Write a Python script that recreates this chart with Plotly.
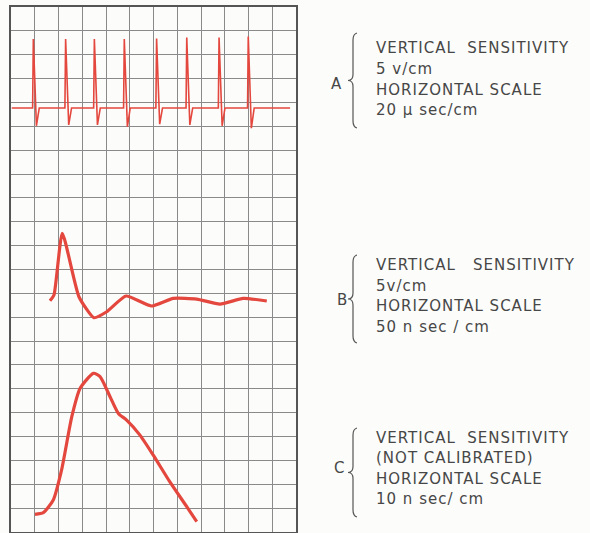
import plotly.graph_objects as go

# ---- data (grid units: x 0..12 divisions, y 0..22 divisions) ----
# Trace A: spike train
spike_x = [0.94, 2.30, 3.51, 4.77, 6.13, 7.40, 8.76, 9.99]
spike_peak = [20.66, 20.66, 20.66, 20.66, 20.68, 20.72, 20.72, 20.76]
spike_trough = [17.02, 17.06, 17.06, 16.98, 17.09, 17.06, 17.02, 16.92]
a_baseline = 17.77
a_start, a_end = 0.03, 11.75

# Trace B: damped ringing pulse
b_x = [1.64, 1.81, 2.16, 2.86, 3.49, 4.03, 4.84, 5.92, 6.83, 7.82, 8.80, 9.78, 10.77]
b_y = [9.69, 9.93, 12.52, 9.86, 8.98, 9.23, 9.89, 9.47, 9.79, 9.76, 9.55, 9.79, 9.68]

# Trace C: single pulse
c_x = [1.01, 1.36, 1.78, 2.13, 2.56, 2.91, 3.47, 3.75, 4.17, 4.52, 4.87, 5.43, 5.99, 6.69, 7.40, 7.82]
c_y = [0.74, 0.81, 1.34, 2.60, 4.83, 6.02, 6.65, 6.51, 5.67, 4.97, 4.69, 4.06, 3.22, 2.10, 1.06, 0.43]

labels = ["A", "B", "C"]
label_lines = [
    ["VERTICAL  SENSITIVITY", "5 v/cm", "HORIZONTAL SCALE", "20 \u03bc sec/cm"],
    ["VERTICAL   SENSITIVITY", "5v/cm", "HORIZONTAL SCALE", "50 n sec / cm"],
    ["VERTICAL  SENSITIVITY", "(NOT CALIBRATED)", "HORIZONTAL SCALE", "10 n sec/ cm"],
]

# ---- build trace A from read spike values ----
ax, ay = [a_start], [a_baseline]
for sx, pk, tr in zip(spike_x, spike_peak, spike_trough):
    ax += [sx - 0.03, sx, sx + 0.13, sx + 0.25]
    ay += [a_baseline, pk, tr, a_baseline]
ax.append(a_end)
ay.append(a_baseline)

RED = "#e4473d"
fig = go.Figure()
fig.add_trace(go.Scatter(x=ax, y=ay, mode="lines", line=dict(color=RED, width=1.6), hoverinfo="skip"))
fig.add_trace(go.Scatter(x=b_x, y=b_y, mode="lines", line=dict(color=RED, width=3.2, shape="spline", smoothing=0.5), hoverinfo="skip"))
fig.add_trace(go.Scatter(x=c_x, y=c_y, mode="lines", line=dict(color=RED, width=3.2, shape="spline", smoothing=0.6), hoverinfo="skip"))

# figure geometry (pixels)
W, H = 590, 533
L, R, T, B = 11, 296, 7, 532

def px(x):
    return (x - L) / (R - L)

def py(y):
    return (B - y) / (B - T)

TXT = "#474747"
FONT = "DejaVu Sans"
FS = 15
# label blocks: (letter x, letter y, brace x, brace top, brace bottom, first text line y)
blocks = [
    (336, 84, 353, 33, 128, 48.5),
    (342, 300, 353, 255, 343, 265),
    (339, 468, 353, 428, 517, 437.5),
]
LINE_GAP = 20.5
annotations = []
shapes = []
for lab, lines, (lx, ly, bx, bt, bb, ty) in zip(labels, label_lines, blocks):
    annotations.append(dict(x=px(lx), y=py(ly), xref="paper", yref="paper", text=lab,
                            showarrow=False, xanchor="center", yanchor="middle",
                            font=dict(family=FONT, size=FS, color=TXT)))
    for i, t in enumerate(lines):
        annotations.append(dict(x=px(374), y=py(ty + i * LINE_GAP), xref="paper", yref="paper", text=t,
                                showarrow=False, xanchor="left", yanchor="middle",
                                font=dict(family=FONT, size=FS, color=TXT)))
    mid = (bt + bb) / 2
    pts = [
        ("M", bx + 4, bt),
        ("Q", bx, bt + 1, bx, bt + 7),
        ("L", bx, mid - 6),
        ("Q", bx, mid, bx - 5, mid),
        ("Q", bx, mid, bx, mid + 6),
        ("L", bx, bb - 7),
        ("Q", bx, bb - 1, bx + 4, bb),
    ]
    path = ""
    for p in pts:
        cmd = p[0]
        coords = p[1:]
        seg = []
        for j in range(0, len(coords), 2):
            seg.append(f"{px(coords[j]):.5f},{py(coords[j+1]):.5f}")
        path += cmd + " " + " ".join(seg) + " "
    shapes.append(dict(type="path", path=path.strip(), xref="paper", yref="paper",
                       line=dict(color="#555555", width=1.2)))

fig.update_layout(
    width=W, height=H, autosize=False,
    margin=dict(l=L, r=W - R, t=T, b=H - B, pad=0),
    paper_bgcolor="#fcfcfa", plot_bgcolor="#fcfcfa",
    showlegend=False,
    annotations=annotations, shapes=shapes,
    xaxis=dict(range=[0, 12], dtick=1, tick0=0, showgrid=True, gridcolor="#8a8a8a", gridwidth=1,
               showticklabels=False, ticks="", zeroline=False, showline=True, linecolor="#555555",
               linewidth=1.5, mirror=True, fixedrange=True),
    yaxis=dict(range=[0, 22], dtick=1, tick0=0, showgrid=True, gridcolor="#8a8a8a", gridwidth=1,
               showticklabels=False, ticks="", zeroline=False, showline=True, linecolor="#555555",
               linewidth=1.5, mirror=True, fixedrange=True),
)

post = (
    "document.body.style.margin='0';"
    "document.body.style.background='#fcfcfa';"
    "document.querySelectorAll('.annotation-text').forEach(function(e){"
    "if(e.textContent.length<2){return;}"
    "var b0=e.getBBox();e.style.letterSpacing='1px';var b1=e.getBBox();"
    "var dx=b0.x-b1.x;var t=e.getAttribute('transform')||'';"
    "e.setAttribute('transform',t+' translate('+dx+',0)');});"
)
fig.write_html("out.html", config={"displayModeBar": False}, post_script=post)
